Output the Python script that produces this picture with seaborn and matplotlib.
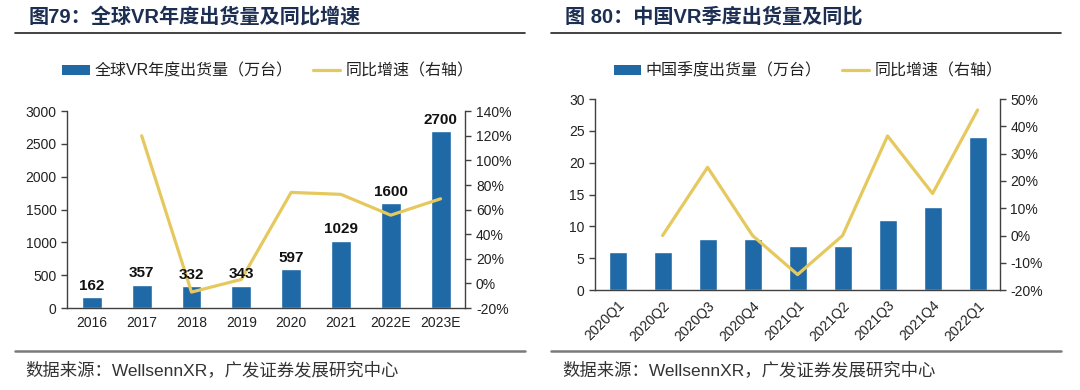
import numpy as np
import pandas as pd
import seaborn as sns
import matplotlib.pyplot as plt
from matplotlib.patches import Patch
from matplotlib.lines import Line2D
from matplotlib.ticker import FuncFormatter

# data
years = ['2016', '2017', '2018', '2019', '2020', '2021', '2022E', '2023E']
global_units = [162, 357, 332, 343, 597, 1029, 1600, 2700]
global_growth = [np.nan, 120, -7, 3.3, 74, 72.4, 55.5, 68.8]

quarters = ['2020Q1', '2020Q2', '2020Q3', '2020Q4', '2021Q1', '2021Q2',
            '2021Q3', '2021Q4', '2022Q1']
china_units = [6, 6, 8, 8, 7, 7, 11, 13, 24]
china_growth = [np.nan, 0, 25, 0, -14.3, 0, 36.5, 15.4, 46]

bar_color = '#1f69a6'
line_color = '#e6c95e'
title_color = '#1c2e52'
axis_color = '#404040'

sns.set_style('white')
plt.rcParams['font.family'] = ['Liberation Sans', 'Noto Sans CJK SC', 'DejaVu Sans']
plt.rcParams['axes.edgecolor'] = axis_color
plt.rcParams['xtick.color'] = axis_color
plt.rcParams['ytick.color'] = axis_color
plt.rcParams['xtick.labelcolor'] = '#222222'
plt.rcParams['ytick.labelcolor'] = '#222222'

fig = plt.figure(figsize=(10.8, 3.9), dpi=100)
ax1 = fig.add_axes([0.062, 0.210, 0.369, 0.505])
ax2 = fig.add_axes([0.551, 0.256, 0.375, 0.490])

pct = FuncFormatter(lambda v, p: f'{v:.0f}%')


def combo(ax, cats, units, growth, ylim, yticks, glim, gticks, labels, rot):
    df = pd.DataFrame({'cat': cats, 'units': units, 'growth': growth,
                       'pos': np.arange(len(cats))})
    sns.barplot(data=df, x='cat', y='units', color=bar_color, width=0.4,
                saturation=1, ax=ax, zorder=2)
    ax.set_ylim(*ylim)
    ax.set_yticks(yticks)
    ax.set_xlabel('')
    ax.set_ylabel('')
    ax.set_xlim(-0.5, len(cats) - 0.5)
    ax.set_xticks(np.arange(len(cats)))
    ax.set_xticks(np.arange(len(cats) + 1) - 0.5, minor=True)
    ax.tick_params(axis='x', which='major', length=0, labelsize=10, pad=6)
    ax.tick_params(axis='x', which='minor', length=4, width=1, direction='out')
    ax.tick_params(axis='y', length=4, width=1, direction='out', labelsize=10, left=True)
    if rot:
        plt.setp(ax.get_xticklabels(), rotation=45, ha='right', rotation_mode='anchor')
    for s in ['top', 'right']:
        ax.spines[s].set_visible(False)
    for s in ['left', 'bottom']:
        ax.spines[s].set_linewidth(1)

    tw = ax.twinx()
    sns.lineplot(data=df.dropna(), x='pos', y='growth', color=line_color,
                 linewidth=2.3, ax=tw, sort=False)
    tw.set_xlim(-0.5, len(cats) - 0.5)
    tw.set_ylim(*glim)
    tw.set_yticks(gticks)
    tw.yaxis.set_major_formatter(pct)
    tw.set_ylabel('')
    tw.tick_params(axis='y', length=4, width=1, direction='out', labelsize=10, right=True)
    for s in ['top', 'left', 'bottom']:
        tw.spines[s].set_visible(False)
    tw.spines['right'].set_linewidth(1)
    tw.spines['right'].set_color(axis_color)

    # value labels sit above the growth line
    if labels:
        for bar, v in zip(ax.containers[0], units):
            tw.annotate(f'{v}', xy=(bar.get_x() + bar.get_width() / 2, bar.get_height()),
                        xycoords=ax.transData, xytext=(0, 3), textcoords='offset points',
                        ha='center', va='bottom', fontsize=11, fontweight='bold',
                        color='#111111', zorder=5)


combo(ax1, years, global_units, global_growth, (0, 3000), range(0, 3001, 500),
      (-20, 140), range(-20, 141, 20), True, False)
combo(ax2, quarters, china_units, china_growth, (0, 30), range(0, 31, 5),
      (-20, 50), range(-20, 51, 10), False, True)

# titles and rules
fig.text(0.026, 0.958, '图79：全球VR年度出货量及同比增速', fontsize=14.5, fontweight='bold',
         color=title_color, va='center', ha='left')
fig.text(0.523, 0.958, '图 80：中国VR季度出货量及同比', fontsize=14.5, fontweight='bold',
         color=title_color, va='center', ha='left')
for x0, x1 in [(0.0135, 0.486), (0.510, 0.982)]:
    fig.add_artist(Line2D([x0, x1], [0.915, 0.915], color='#222222', linewidth=1.2))
    fig.add_artist(Line2D([x0, x1], [0.100, 0.100], color='#7a7a7a', linewidth=1.8))

# legends
for cx, name in [(0.248, '全球VR年度出货量（万台）'), (0.748, '中国季度出货量（万台）')]:
    handles = [Patch(facecolor=bar_color, edgecolor='none'),
               Line2D([], [], color=line_color, linewidth=2.3)]
    fig.legend(handles, [name, '同比增速（右轴）'], loc='center', bbox_to_anchor=(cx, 0.818),
               ncol=2, frameon=False, fontsize=11.5, handlelength=1.7, handleheight=0.55,
               handletextpad=0.3, columnspacing=1.3, labelcolor='#222222')

# sources
for x in [0.023, 0.521]:
    fig.text(x, 0.052, '数据来源：WellsennXR，广发证券发展研究中心', fontsize=12.5,
             color='#333333', va='center', ha='left')

plt.savefig('out.png', dpi=100)
